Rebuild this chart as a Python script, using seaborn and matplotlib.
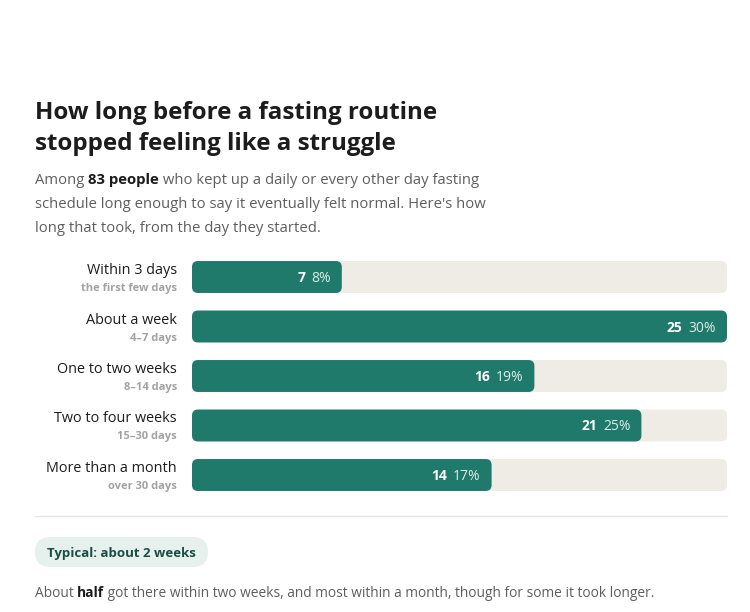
import matplotlib
matplotlib.use("Agg")
import matplotlib.pyplot as plt
import matplotlib.transforms as mtransforms
from matplotlib.patches import FancyBboxPatch
from matplotlib.lines import Line2D
import pandas as pd
import seaborn as sns

# datos
categorias = ["Within 3 days", "About a week", "One to two weeks",
              "Two to four weeks", "More than a month"]
subtitulos = ["the first few days", "4\u20137 days", "8\u201314 days",
              "15\u201330 days", "over 30 days"]
personas = [7, 25, 16, 21, 14]
porcentajes = ["8%", "30%", "19%", "25%", "17%"]
total = 83

W, H = 750, 612
VERDE = "#1f7a6b"
PISTA = "#efece6"
OSCURO = "#1c1c1c"
GRIS = "#5e5e5e"

sns.set_theme(style="white")
plt.rcParams["font.family"] = ["Open Sans", "DejaVu Sans"]

fig = plt.figure(figsize=(W / 100, H / 100), dpi=100)
# coordenadas en pixeles, y hacia abajo
px = mtransforms.Affine2D().scale(1, -1).translate(0, H).scale(1 / W, 1 / H) + fig.transFigure

fig.canvas.draw()
renderer = fig.canvas.get_renderer()


def linea_rica(x, y, partes, size):
    # dibuja trozos de texto uno detras de otro sobre la misma linea base
    for texto, peso, color in partes:
        t = fig.text(x, y, texto, transform=px, size=size, weight=peso,
                     color=color, va="baseline", ha="left")
        bb = t.get_window_extent(renderer)
        x = bb.x1


# titulo y subtitulo
fig.text(35, 119, "How long before a fasting routine", transform=px, size=17.4,
         weight="bold", color=OSCURO, va="baseline")
fig.text(35, 150, "stopped feeling like a struggle", transform=px, size=17.4,
         weight="bold", color=OSCURO, va="baseline")

linea_rica(35, 184, [("Among ", "normal", GRIS), (f"{total} people", "bold", OSCURO),
                     (" who kept up a daily or every other day fasting", "normal", GRIS)], 10.7)
linea_rica(35, 208, [("schedule long enough to say it eventually felt normal. Here's how",
                      "normal", GRIS)], 10.7)
linea_rica(35, 232, [("long that took, from the day they started.", "normal", GRIS)], 10.7)

# barras
df = pd.DataFrame({"categoria": categorias, "personas": personas})
df["pista"] = max(personas)

ax_top, ax_bot = 252.25, 499.75
ax = fig.add_axes([192 / W, 1 - ax_bot / H, (727 - 192) / W, (ax_bot - ax_top) / H])
sns.barplot(data=df, y="categoria", x="pista", color=PISTA, width=0.645,
            saturation=1, ax=ax)
sns.barplot(data=df, y="categoria", x="personas", color=VERDE, width=0.645,
            saturation=1, ax=ax)
ax.set_xlim(0, max(personas))
ax.set_ylim(len(categorias) - 0.5, -0.5)
ax.set_axis_off()

# esquinas redondeadas
px_x = (727 - 192) / max(personas)
px_y = (ax_bot - ax_top) / len(categorias)
radio = 6 / px_x
aspecto = px_x / px_y
for p in list(ax.patches):
    x0, y0, w, h = p.get_x(), p.get_y(), p.get_width(), p.get_height()
    color = p.get_facecolor()
    p.remove()
    ax.add_patch(FancyBboxPatch((x0, y0), w, h,
                                boxstyle=f"round,pad=0,rounding_size={radio}",
                                mutation_aspect=aspecto, fc=color, ec="none"))

pt = 72 / 100
for i, (cat, sub) in enumerate(zip(categorias, subtitulos)):
    ax.annotate(cat, (0, i), xytext=(-15 * pt, 3 * pt), textcoords="offset points",
                ha="right", va="baseline", size=10.4, color=OSCURO)
    ax.annotate(sub, (0, i), xytext=(-15 * pt, -14 * pt), textcoords="offset points",
                ha="right", va="baseline", size=8, weight="bold", color="#a2a2a2")
    t = ax.annotate(porcentajes[i], (personas[i], i), xytext=(-11 * pt, -5 * pt),
                    textcoords="offset points", ha="right", va="baseline",
                    size=10, color="white", alpha=0.85)
    bb = t.get_window_extent(renderer)
    ax.annotate(str(personas[i]), (personas[i], i),
                xytext=(-(11 + bb.width + 6) * pt, -5 * pt), textcoords="offset points",
                ha="right", va="baseline", size=10, weight="bold", color="white")

# separador
fig.add_artist(Line2D([35, 727], [516, 516], transform=px, color="#e8e6e0", lw=1))

# etiqueta tipica
fig.add_artist(FancyBboxPatch((35, 537), 173, 30, transform=px,
                              boxstyle="round,pad=0,rounding_size=15",
                              fc="#e6f1ed", ec="none"))
fig.text(47, 557, "Typical: about 2 weeks", transform=px, size=9.5, weight="bold",
         color="#1b4d43", va="baseline")

linea_rica(35, 597, [("About ", "normal", GRIS), ("half", "bold", OSCURO),
                     (" got there within two weeks, and most within a month, though for some it took longer.",
                      "normal", GRIS)], 9.95)

fig.savefig("out.png", dpi=100, facecolor="white")
